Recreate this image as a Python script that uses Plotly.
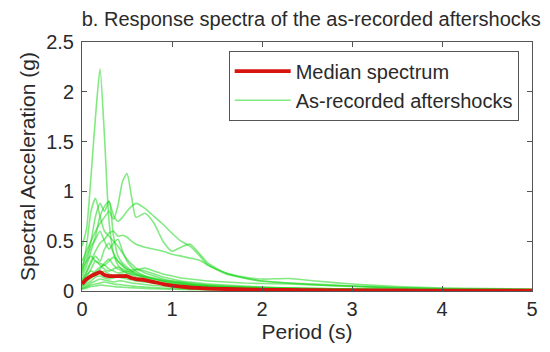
import plotly.graph_objects as go

periods = [0, 0.05, 0.1, 0.15, 0.2, 0.25, 0.3, 0.35, 0.4, 0.45, 0.5, 0.55, 0.6, 0.7, 0.8, 0.9,
           1.0, 1.1, 1.2, 1.3, 1.4, 1.6, 1.8, 2.0, 2.3, 2.6, 3.0, 3.5, 4.0, 4.5, 5.0]

aftershocks = [
    [0.45, 0.62, 1.15, 1.75, 2.23, 1.55, 0.70, 0.38, 0.26, 0.21, 0.18, 0.16, 0.14, 0.11, 0.09, 0.07,
     0.06, 0.05, 0.045, 0.04, 0.035, 0.03, 0.025, 0.02, 0.018, 0.015, 0.012, 0.01, 0.008, 0.007, 0.006],
    [0.30, 0.40, 0.50, 0.60, 0.68, 0.74, 0.80, 0.72, 0.86, 1.10, 1.18, 0.95, 0.74, 0.78, 0.68, 0.50,
     0.40, 0.44, 0.47, 0.38, 0.28, 0.18, 0.14, 0.12, 0.125, 0.10, 0.07, 0.045, 0.03, 0.025, 0.02],
    [0.25, 0.35, 0.50, 0.75, 0.88, 0.80, 0.90, 0.76, 0.70, 0.74, 0.80, 0.85, 0.88, 0.83, 0.75, 0.67,
     0.58, 0.50, 0.45, 0.36, 0.26, 0.18, 0.13, 0.10, 0.08, 0.07, 0.05, 0.03, 0.022, 0.018, 0.015],
    [0.20, 0.45, 0.80, 0.93, 0.75, 0.60, 0.55, 0.50, 0.45, 0.38, 0.32, 0.27, 0.23, 0.18, 0.15, 0.12,
     0.10, 0.085, 0.07, 0.06, 0.05, 0.04, 0.03, 0.025, 0.02, 0.016, 0.012, 0.01, 0.008, 0.006, 0.005],
    [0.15, 0.25, 0.40, 0.55, 0.75, 0.85, 0.90, 0.55, 0.35, 0.28, 0.24, 0.20, 0.17, 0.13, 0.10, 0.08,
     0.07, 0.06, 0.05, 0.045, 0.04, 0.03, 0.025, 0.02, 0.016, 0.013, 0.01, 0.008, 0.006, 0.005, 0.004],
    [0.12, 0.20, 0.30, 0.40, 0.48, 0.52, 0.58, 0.60, 0.55, 0.56, 0.54, 0.50, 0.47, 0.44, 0.42, 0.40,
     0.37, 0.35, 0.33, 0.31, 0.26, 0.17, 0.13, 0.10, 0.08, 0.06, 0.045, 0.03, 0.02, 0.016, 0.012],
    [0.18, 0.30, 0.45, 0.52, 0.60, 0.50, 0.42, 0.48, 0.52, 0.40, 0.30, 0.24, 0.20, 0.15, 0.12, 0.10,
     0.08, 0.07, 0.06, 0.05, 0.045, 0.035, 0.03, 0.025, 0.02, 0.016, 0.012, 0.01, 0.008, 0.006, 0.005],
    [0.10, 0.18, 0.28, 0.35, 0.30, 0.42, 0.48, 0.38, 0.30, 0.25, 0.22, 0.21, 0.22, 0.20, 0.17, 0.14,
     0.12, 0.10, 0.09, 0.08, 0.07, 0.06, 0.05, 0.04, 0.03, 0.025, 0.02, 0.015, 0.012, 0.01, 0.008],
    [0.08, 0.14, 0.22, 0.30, 0.26, 0.22, 0.20, 0.22, 0.24, 0.22, 0.20, 0.19, 0.21, 0.23, 0.20, 0.17,
     0.15, 0.13, 0.12, 0.11, 0.10, 0.09, 0.08, 0.075, 0.07, 0.06, 0.05, 0.035, 0.025, 0.02, 0.015],
    [0.06, 0.10, 0.16, 0.20, 0.24, 0.26, 0.22, 0.20, 0.18, 0.19, 0.20, 0.18, 0.16, 0.14, 0.12, 0.10,
     0.09, 0.08, 0.07, 0.06, 0.055, 0.045, 0.04, 0.035, 0.03, 0.025, 0.02, 0.015, 0.012, 0.01, 0.008],
    [0.05, 0.09, 0.13, 0.16, 0.18, 0.20, 0.17, 0.15, 0.16, 0.17, 0.15, 0.13, 0.12, 0.10, 0.08, 0.07,
     0.06, 0.05, 0.045, 0.04, 0.035, 0.03, 0.025, 0.02, 0.018, 0.015, 0.012, 0.01, 0.008, 0.007, 0.006],
    [0.04, 0.07, 0.10, 0.14, 0.15, 0.13, 0.12, 0.13, 0.14, 0.13, 0.12, 0.11, 0.10, 0.09, 0.08, 0.07,
     0.065, 0.06, 0.055, 0.05, 0.045, 0.04, 0.035, 0.03, 0.025, 0.02, 0.016, 0.012, 0.01, 0.008, 0.007],
    [0.03, 0.05, 0.08, 0.10, 0.12, 0.11, 0.10, 0.09, 0.10, 0.10, 0.09, 0.08, 0.075, 0.065, 0.055, 0.05,
     0.04, 0.035, 0.03, 0.028, 0.025, 0.02, 0.018, 0.015, 0.012, 0.01, 0.008, 0.006, 0.005, 0.004, 0.004],
    [0.02, 0.04, 0.06, 0.07, 0.08, 0.09, 0.08, 0.07, 0.065, 0.06, 0.055, 0.05, 0.045, 0.04, 0.035, 0.03,
     0.025, 0.022, 0.02, 0.018, 0.016, 0.013, 0.011, 0.01, 0.008, 0.007, 0.005, 0.004, 0.003, 0.003, 0.002],
    [0.02, 0.03, 0.045, 0.05, 0.06, 0.055, 0.05, 0.045, 0.04, 0.038, 0.035, 0.032, 0.03, 0.026, 0.022, 0.02,
     0.018, 0.016, 0.014, 0.012, 0.011, 0.009, 0.008, 0.007, 0.006, 0.005, 0.004, 0.003, 0.003, 0.002, 0.002],
    [0.22, 0.30, 0.35, 0.30, 0.28, 0.26, 0.30, 0.34, 0.30, 0.26, 0.22, 0.20, 0.18, 0.15, 0.13, 0.11,
     0.10, 0.09, 0.08, 0.07, 0.06, 0.05, 0.04, 0.035, 0.03, 0.025, 0.02, 0.015, 0.012, 0.01, 0.008],
    [0.09, 0.16, 0.20, 0.18, 0.22, 0.28, 0.32, 0.26, 0.22, 0.20, 0.18, 0.17, 0.16, 0.14, 0.12, 0.10,
     0.085, 0.075, 0.065, 0.06, 0.05, 0.04, 0.035, 0.03, 0.025, 0.02, 0.016, 0.012, 0.01, 0.008, 0.007],
]

median = [0.07, 0.12, 0.15, 0.17, 0.19, 0.16, 0.15, 0.15, 0.15, 0.15, 0.15, 0.13, 0.12, 0.11, 0.09, 0.07,
          0.055, 0.045, 0.035, 0.03, 0.025, 0.02, 0.015, 0.012, 0.01, 0.008, 0.006, 0.005, 0.004, 0.003, 0.003]

x_ticks = [0, 1, 2, 3, 4, 5]
y_ticks = [0, 0.5, 1, 1.5, 2, 2.5]
y_tick_labels = ["0", "0.5", "1", "1.5", "2", "2.5"]

FONT = "Liberation Sans, Arial, sans-serif"
GREEN = "rgba(30,215,30,0.55)"
RED = "rgb(215,20,15)"
TXT = "#2a2a2a"

fig = go.Figure()
for i, vals in enumerate(aftershocks):
    fig.add_trace(go.Scatter(
        x=periods, y=vals, mode="lines",
        line=dict(color=GREEN, width=1.6, shape="spline", smoothing=0.6),
        name="As-recorded aftershocks", legendgroup="as", showlegend=(i == 0),
        legendrank=2,
    ))
fig.add_trace(go.Scatter(
    x=periods, y=median, mode="lines",
    line=dict(color=RED, width=3.8, shape="spline", smoothing=0.6),
    name="Median spectrum", legendrank=1,
))

axis_common = dict(
    showline=True, linecolor="#555", linewidth=1, mirror="ticks",
    ticks="inside", ticklen=5, tickcolor="#555", showgrid=False, zeroline=False,
    tickfont=dict(family=FONT, size=20, color=TXT),
)

fig.update_layout(
    width=550, height=352,
    margin=dict(l=82, r=14, t=42, b=55),
    paper_bgcolor="white", plot_bgcolor="white",
    title=dict(text="b. Response spectra of the as-recorded aftershocks",
               x=0.566, xanchor="center", y=0.945, yanchor="middle",
               font=dict(family=FONT, size=20, color=TXT)),
    xaxis=dict(range=[0, 5], tickvals=x_ticks,
               title=dict(text="Period (s)", font=dict(family=FONT, size=21, color=TXT), standoff=5),
               **axis_common),
    yaxis=dict(range=[0, 2.5], tickvals=y_ticks, ticktext=y_tick_labels, ticklabelstandoff=3,
               title=dict(text="Spectral Acceleration (g)", font=dict(family=FONT, size=21, color=TXT), standoff=4),
               **axis_common),
    legend=dict(x=0.326, y=0.965, xanchor="left", yanchor="top",
                bgcolor="white", bordercolor="#555", borderwidth=1,
                font=dict(family=FONT, size=20, color=TXT),
                tracegroupgap=0, itemwidth=56),
    showlegend=True,
)

fig.write_html("out.html")
